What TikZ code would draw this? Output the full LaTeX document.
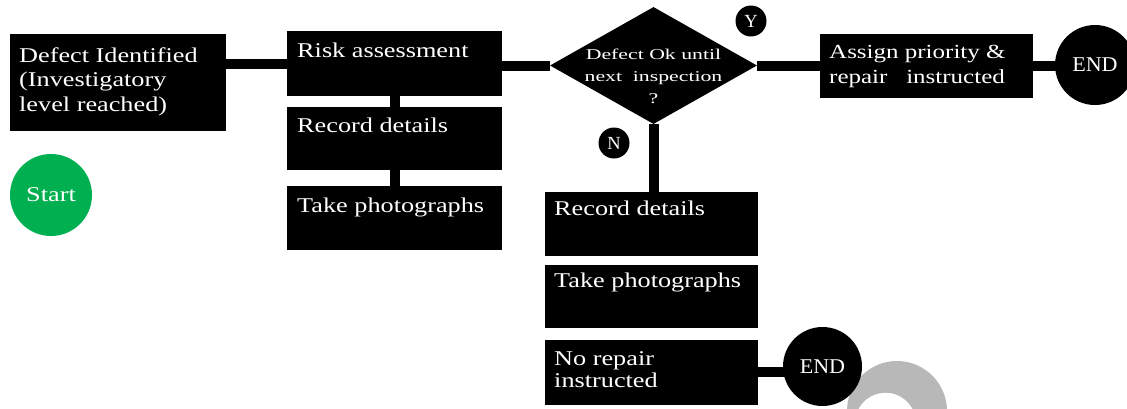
\documentclass[tikz,border=0pt]{standalone}
\usepackage{fontspec}
\setmainfont{Liberation Serif}
\newfontfamily\bxf{Liberation Serif}[FakeStretch=1.25]
\newfontfamily\dmf{Liberation Serif}[FakeStretch=1.45]
\newfontfamily\enf{Liberation Serif}[FakeStretch=1.05]
\usetikzlibrary{shapes.geometric,calc,backgrounds}
\definecolor{startgreen}{HTML}{00B050}
\definecolor{ringgray}{HTML}{B8B8B8}
\begin{document}
\begin{tikzpicture}[x=1pt,y=-1pt,
  box/.style={rectangle, fill=black, anchor=north west, inner sep=0pt},
  btxt/.style={anchor=base west, inner sep=0pt, text=white, font=\bxf\fontsize{21}{24.5}\selectfont},
  conn/.style={line width=10pt, black},
  endc/.style={circle, fill=black, minimum size=80pt, inner sep=0pt, text=white, font=\enf\fontsize{21}{24}\selectfont},
  yn/.style={circle, fill=black, minimum size=31pt, inner sep=0pt, text=white, font=\fontsize{18.5}{20}\selectfont}]
\useasboundingbox (0,0) rectangle (1127,408);
\clip (0,0) rectangle (1127,408);

% boxes
\node[box, minimum width=216pt, minimum height=97pt] (def) at (10,34) {};
\node[box, minimum width=215pt, minimum height=65pt] (risk) at (287,31) {};
\node[box, minimum width=215pt, minimum height=63pt] (rec1) at (287,107) {};
\node[box, minimum width=215pt, minimum height=64pt] (pho1) at (287,186) {};
\node[box, minimum width=213pt, minimum height=64pt] (rec2) at (545,192) {};
\node[box, minimum width=213pt, minimum height=63pt] (pho2) at (545,265) {};
\node[box, minimum width=213pt, minimum height=65pt] (norep) at (545,340) {};
\node[box, minimum width=213pt, minimum height=64pt] (assign) at (820,34) {};

\node[diamond, fill=black, minimum width=207pt, minimum height=117pt, inner sep=0pt] (dia) at (653.5,65.5) {};

\node[circle, fill=startgreen, minimum size=82pt, inner sep=0pt, text=white,
      font=\bxf\fontsize{21}{24}\selectfont] (start) at (51,195) {Start};
\node[endc] (end1) at (1095,65) {END};
\node[endc, minimum size=79pt] (end2) at (822.5,366.5) {END};
\node[yn] (y) at (751,21) {Y};
\node[yn] (n) at (614,143) {N};

% texts
\node[btxt] (tdef) at (19,62) {\parbox[t]{210pt}{\raggedright Defect Identified\\(Investigatory\\level reached)}};
\node[btxt] (trisk) at (297,57) {Risk assessment};
\node[btxt] (trec1) at (297,132) {Record details};
\node[btxt] (tpho1) at (297,212) {Take photographs};
\node[btxt] (trec2) at (554,215) {Record details};
\node[btxt] (tpho2) at (554,287) {Take photographs};
\node[btxt, font=\bxf\fontsize{21}{22}\selectfont] (tnorep) at (554,365) {\parbox[t]{200pt}{\raggedright No repair\\instructed}};
\node[btxt, font=\bxf\fontsize{20}{25}\selectfont] (tassign) at (829,58) {\parbox[t]{210pt}{\raggedright Assign priority \&\\repair\ \ \ instructed}};
\node[anchor=base, inner sep=0pt, text=white, font=\dmf\fontsize{15}{22}\selectfont] (tdia) at (653.5,59) {\parbox[t]{200pt}{\centering Defect Ok until\\next\ \ inspection\\?}};

% connectors
\coordinate (d1) at ($(def.north east)+(0,29.5)$);
\coordinate (r1) at ($(risk.north east)+(0,34.5)$);
\coordinate (a1) at ($(assign.north west)+(0,31.5)$);
\coordinate (a2) at ($(assign.north east)+(0,31.5)$);
\coordinate (nr) at ($(norep.north east)+(0,32)$);
\begin{scope}[on background layer]
  \fill[ringgray, even odd rule] (897,411) circle (50) (885.5,423.3) circle (30.6);
  \draw[conn] (d1) -- (d1 -| risk.west);
  \draw[conn] (r1) -- (dia.west);
  \draw[conn] (dia.east) -- (a1);
  \draw[conn] (a2) -- (a2 -| end1.center);
  \draw[conn] (risk.south) -- (rec1.north);
  \draw[conn] (rec1.south) -- (pho1.north);
  \draw[conn] (dia.south) -- (dia.south |- rec2.north);
  \draw[conn] (nr) -- (nr -| end2.center);
\end{scope}
\end{tikzpicture}
\end{document}
